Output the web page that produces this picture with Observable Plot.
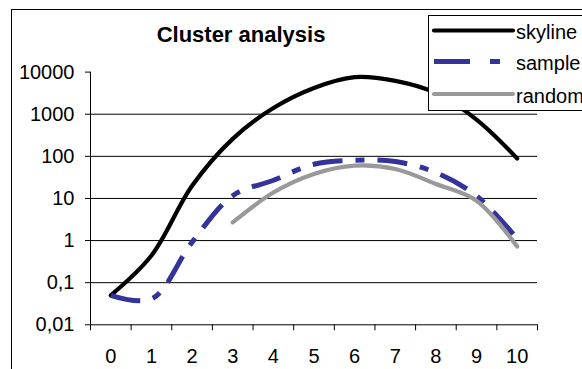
<!DOCTYPE html>
<html>
<head>
<meta charset="utf-8">
<script src="https://cdn.jsdelivr.net/npm/d3@7"></script>
<script src="https://cdn.jsdelivr.net/npm/@observablehq/plot@0.6"></script>
<style>
  html, body { margin: 0; padding: 0; background: #fff; }
  #wrap { position: relative; width: 582px; height: 369px; overflow: hidden; font-family: "Liberation Sans", Arial, sans-serif; }
  #border { position: absolute; left: 11px; top: 9px; width: 700px; height: 500px; border: 1px solid #000; box-sizing: border-box; }
  #title { position: absolute; left: 0; width: 482px; top: 24px; line-height: 22px; font-size: 22px; font-weight: bold; text-align: center; white-space: nowrap; }
  #chart { position: absolute; left: 0; top: 0; }
  #legend { position: absolute; left: 428px; top: 15px; }
</style>
</head>
<body>
<div id="wrap">
  <div id="border"></div>
  <div id="chart"></div>
  <div id="title">Cluster analysis</div>
  <div id="legend"></div>
</div>
<script>
// ---- data ----
const categories = [0, 1, 2, 3, 4, 5, 6, 7, 8, 9, 10];
const skyline = [0.05, 0.44, 20, 260, 1400, 4200, 7600, 6200, 3200, 740, 89];
const sample  = [0.05, 0.041, 0.92, 11.6, 27, 65, 81, 75, 41, 11.5, 1.1];
const random  = [null, null, null, 2.7, 13.8, 38, 60, 50, 22, 8.8, 0.72];
const seriesNames = ["skyline", "sample", "random"];
const yTickValues = [0.01, 0.1, 1, 10, 100, 1000, 10000];
const yTickLabels = ["0,01", "0,1", "1", "10", "100", "1000", "10000"];
const gridValues = [0.1, 1, 10, 100, 1000];

const seriesValues = [skyline, sample, random];
const seriesStyle = {
  skyline: { stroke: "#000000", strokeWidth: 4.2, dash: null },
  sample:  { stroke: "#333399", strokeWidth: 5, dash: "30,13,9,13" },
  random:  { stroke: "#999999", strokeWidth: 4.2, dash: null }
};

const rows = [];
seriesNames.forEach((name, si) => {
  categories.forEach((c, i) => {
    const v = seriesValues[si][i];
    if (v != null) rows.push({ series: name, x: c, value: v });
  });
});

const bounds = d3.range(categories.length + 1).map(i => categories[0] - 0.5 + i);
const xMin = bounds[0], xMax = bounds[bounds.length - 1];

const lineMarks = seriesNames.map(name => Plot.line(rows.filter(r => r.series === name), {
  x: "x", y: "value",
  curve: "catmull-rom",
  stroke: seriesStyle[name].stroke,
  strokeWidth: seriesStyle[name].strokeWidth,
  strokeDasharray: seriesStyle[name].dash,
  strokeLinecap: name === "sample" ? "butt" : "round",
  strokeLinejoin: "round"
}));

const chart = Plot.plot({
  width: 582,
  height: 369,
  marginLeft: 90,
  marginRight: 45,
  marginTop: 71.6,
  marginBottom: 44.7,
  style: { fontFamily: "'Liberation Sans', Arial, sans-serif", fontSize: "20px", background: "transparent", color: "#000" },
  x: { domain: [xMin, xMax], axis: null, label: null },
  y: { type: "log", domain: [yTickValues[0], yTickValues[yTickValues.length - 1]], axis: null, label: null },
  marks: [
    Plot.ruleY(gridValues, { x1: xMin, x2: xMax, stroke: "#000", strokeWidth: 1 }),
    Plot.ruleY([yTickValues[0]], { x1: xMin, x2: xMax, stroke: "#000", strokeWidth: 1 }),
    Plot.ruleX([xMin], { y1: yTickValues[0], y2: yTickValues[yTickValues.length - 1], stroke: "#000", strokeWidth: 1 }),
    Plot.axisX(bounds, { tickSize: 6, tickFormat: () => "", stroke: "#000", label: null }),
    Plot.axisX(categories, { tickSize: 0, tickPadding: 24, fontSize: 20, tickFormat: d => String(d), label: null }),
    Plot.axisY(yTickValues, { tickSize: 5, tickPadding: 11, fontSize: 20, tickFormat: d => yTickLabels[yTickValues.indexOf(d)], stroke: "#000", label: null }),
    ...lineMarks
  ]
});
document.getElementById("chart").appendChild(chart);

// ---- legend ----
const lw = 180, lh = 96;
const leg = d3.select("#legend").append("svg").attr("width", lw).attr("height", lh)
  .style("overflow", "visible");
leg.append("rect").attr("x", 0.5).attr("y", 0.5).attr("width", lw).attr("height", lh - 1)
  .attr("fill", "#fff").attr("stroke", "#000");
const rowY = [15.5, 46.5, 79];
seriesNames.forEach((name, i) => {
  const st = seriesStyle[name];
  const g = leg.append("g");
  g.append("line").attr("x1", 6).attr("x2", 85).attr("y1", rowY[i]).attr("y2", rowY[i])
    .attr("stroke", st.stroke).attr("stroke-width", st.strokeWidth)
    .attr("stroke-linecap", name === "sample" ? "butt" : "round")
    .attr("stroke-dasharray", name === "sample" ? "36,20,10,20" : null);
  g.append("text").attr("x", 88).attr("y", rowY[i] + 8.5)
    .attr("font-family", "'Liberation Sans', Arial, sans-serif").attr("font-size", 20)
    .text(name);
});
</script>
</body>
</html>
